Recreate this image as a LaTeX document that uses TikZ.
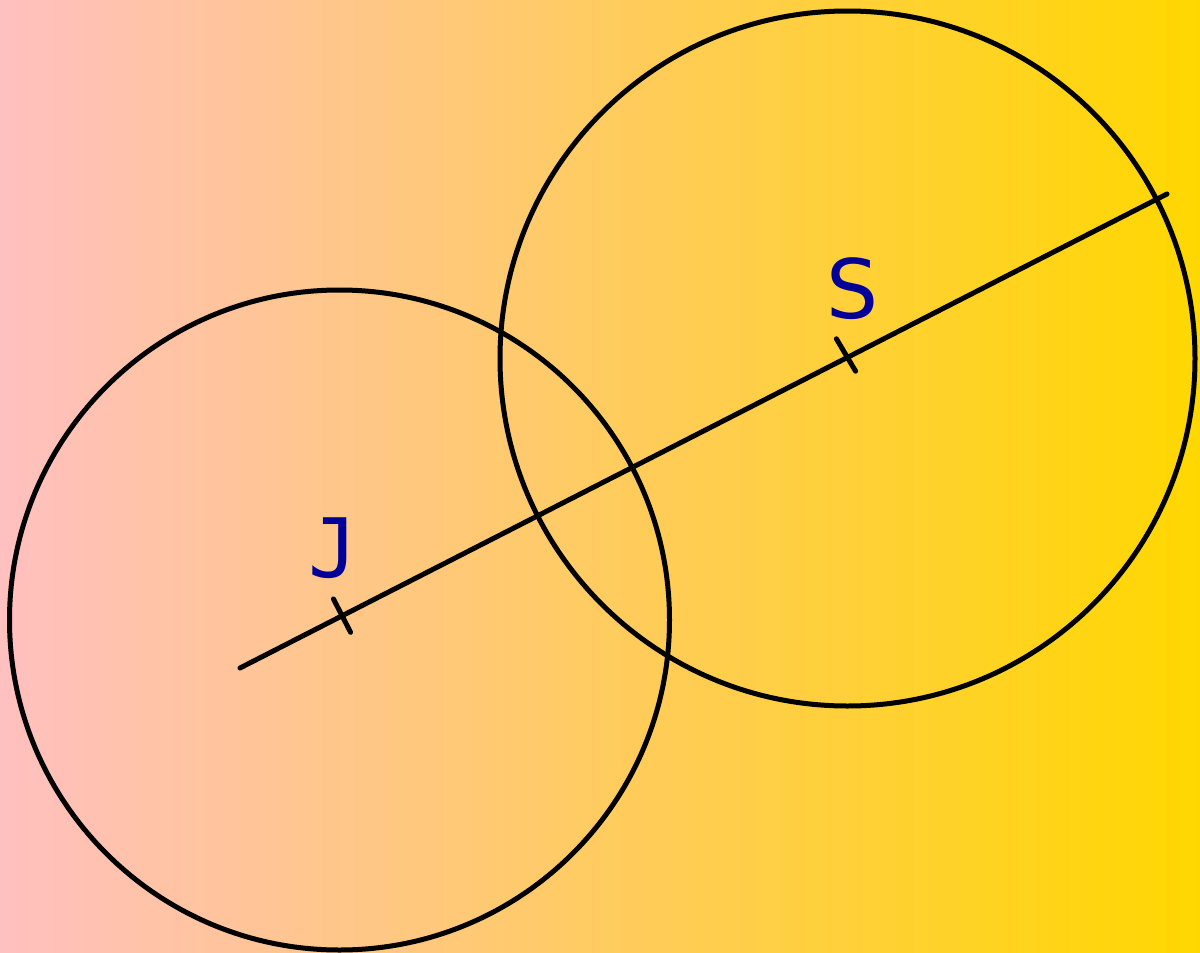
\documentclass[tikz,border=0pt]{standalone}
\usepackage{fontspec}
\setmainfont{DejaVu Sans}
\newfontfamily\jfont{DejaVu Sans Mono}
\definecolor{bgpink}{RGB}{255,192,192}
\definecolor{bggold}{RGB}{255,215,0}
\definecolor{lblue}{RGB}{0,0,153}
\begin{document}
\begin{tikzpicture}[x=1pt,y=-1pt,
  geo/.style={draw=black,line width=5pt},
  seg/.style={draw=black,line width=5pt,line cap=round},
  lbl/.style={text=lblue,font=\fontsize{82}{82}\selectfont,inner sep=0pt}]
\useasboundingbox (0,0) rectangle (1200,953);
\shade[left color=bgpink,right color=bggold] (0,0) rectangle (1200,953);
% circles
\draw[geo] (339.5,620) circle[radius=330];
\draw[geo] (847.5,358.5) circle[radius=347.5];
% line
\coordinate (A) at (240,668);
\coordinate (B) at (1167,194);
\draw[seg] (A) -- (B);
% ticks
\coordinate (tj1) at (333.4,598.9);
\coordinate (tj2) at (350.6,632.3);
\coordinate (ts1) at (836.4,338.8);
\coordinate (ts2) at (855.6,371.2);
\draw[seg] (tj1) -- (tj2);
\draw[seg] (ts1) -- (ts2);
% labels
\node[lbl,font=\fontsize{82}{82}\selectfont\jfont] (J) at (333,548) {J};
\node[lbl] (S) at (853,289) {S};
\end{tikzpicture}
\end{document}
